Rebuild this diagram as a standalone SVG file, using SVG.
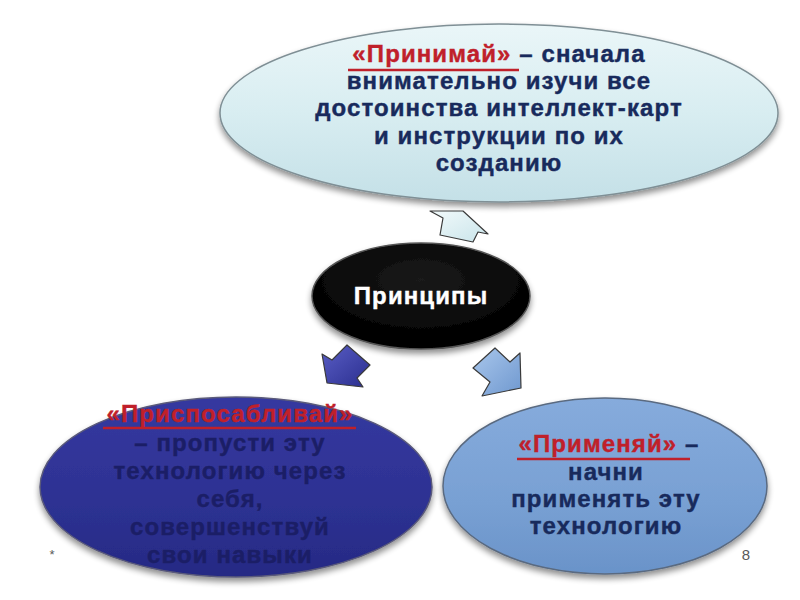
<svg xmlns="http://www.w3.org/2000/svg" width="800" height="600" viewBox="0 0 800 600">
<defs>
<linearGradient id="gTop" x1="0" y1="0" x2="0" y2="1">
<stop offset="0" stop-color="#eaf6f8"/><stop offset="0.5" stop-color="#d8edf1"/><stop offset="1" stop-color="#c4e0e7"/>
</linearGradient>
<radialGradient id="gBlack" cx="0.5" cy="0.35" r="0.6">
<stop offset="0" stop-color="#1a1a1a"/><stop offset="1" stop-color="#000000"/>
</radialGradient>
<linearGradient id="gLeft" x1="0" y1="0" x2="0" y2="1">
<stop offset="0" stop-color="#3539a0"/><stop offset="0.6" stop-color="#2d3192"/><stop offset="1" stop-color="#262a84"/>
</linearGradient>
<linearGradient id="gRight" x1="0" y1="0" x2="0" y2="1">
<stop offset="0" stop-color="#86abdc"/><stop offset="0.6" stop-color="#78a0d3"/><stop offset="1" stop-color="#6a93c9"/>
</linearGradient>
<linearGradient id="gArrUp" x1="0" y1="0" x2="1" y2="1">
<stop offset="0" stop-color="#f2fafb"/><stop offset="1" stop-color="#c9e4ea"/>
</linearGradient>
<linearGradient id="gArrL" x1="0" y1="0" x2="1" y2="1">
<stop offset="0" stop-color="#5a5ec6"/><stop offset="1" stop-color="#2a2e8e"/>
</linearGradient>
<linearGradient id="gArrR" x1="0" y1="0" x2="1" y2="1">
<stop offset="0" stop-color="#a9c7ec"/><stop offset="1" stop-color="#6f98cf"/>
</linearGradient>
<filter id="sh" x="-10%" y="-10%" width="120%" height="130%">
<feGaussianBlur in="SourceAlpha" stdDeviation="3"/>
<feOffset dx="0" dy="4" result="b"/>
<feComponentTransfer><feFuncA type="linear" slope="0.45"/></feComponentTransfer>
<feMerge><feMergeNode/><feMergeNode in="SourceGraphic"/></feMerge>
</filter>
</defs>
<style>
.t{font-family:"Liberation Sans",Arial,sans-serif;font-weight:bold;font-size:24px;letter-spacing:1.1px;text-anchor:middle;stroke-width:0.4px;}
.navy{fill:#182a5c;stroke:#182a5c;}
.dk{fill:#1b1e66;stroke:#1b1e66;}
.red{fill:#c0202a;stroke:#c0202a;}
.ul{stroke:#c0202a;stroke-width:2.5;}
.arrow{stroke:#3a3a3a;stroke-width:1.2;stroke-linejoin:round;}
.edge{stroke-width:1.5;}
.foot{font-family:"Liberation Sans",Arial,sans-serif;fill:#595959;}
</style>
<rect width="800" height="600" fill="#ffffff"/>

<g id="connectors">
<polygon class="arrow" fill="url(#gArrUp)" points="430,211 463,211 488,234 478,232 473,242 440,235 443,218"/>
<polygon class="arrow" fill="url(#gArrL)" points="322,354 332,360 347,345 370,365 357,378 363,387 327,383"/>
<polygon class="arrow" fill="url(#gArrR)" points="473,368 495,348 510,362 520,353 521,388 482,396 490,382"/>
</g>

<g id="node-top">
<ellipse cx="499" cy="113" rx="279" ry="89" fill="url(#gTop)" class="edge" stroke="#7f8f95" filter="url(#sh)"/>
<text class="t navy" x="499" y="62"><tspan class="red">«Принимай» </tspan>– сначала</text>
<line class="ul" x1="348" y1="70" x2="519" y2="70"/>
<text class="t navy" x="499" y="89">внимательно изучи все</text>
<text class="t navy" x="499" y="116">достоинства интеллект-карт</text>
<text class="t navy" x="499" y="144">и инструкции по их</text>
<text class="t navy" x="499" y="171">созданию</text>
</g>

<g id="node-center">
<ellipse cx="421" cy="296" rx="109" ry="53" fill="url(#gBlack)" stroke="#555" stroke-width="1.5" filter="url(#sh)"/>
<text class="t" x="421" y="304" fill="#ffffff" stroke="#ffffff" stroke-width="0.3" font-size="23">Принципы</text>
</g>

<g id="node-left">
<ellipse cx="236" cy="487" rx="196" ry="90" fill="url(#gLeft)" class="edge" stroke="#5a5a7a" filter="url(#sh)"/>
<text class="t red" x="230" y="422">«Приспосабливай»</text>
<line class="ul" x1="103" y1="428" x2="356" y2="428"/>
<text class="t dk" x="230" y="451">– пропусти эту</text>
<text class="t dk" x="230" y="479">технологию через</text>
<text class="t dk" x="230" y="507">себя,</text>
<text class="t dk" x="230" y="535">совершенствуй</text>
<text class="t dk" x="230" y="563">свои навыки</text>
</g>

<g id="node-right">
<ellipse cx="605" cy="486" rx="162" ry="88" fill="url(#gRight)" class="edge" stroke="#5a6a80" filter="url(#sh)"/>
<text class="t navy" x="609" y="452"><tspan class="red">«Применяй» </tspan>–</text>
<line class="ul" x1="517" y1="459" x2="690" y2="459"/>
<text class="t navy" x="606" y="480">начни</text>
<text class="t navy" x="606" y="507">применять эту</text>
<text class="t navy" x="606" y="534">технологию</text>
</g>

<text class="foot" x="52" y="559" font-size="13" text-anchor="middle">*</text>
<text class="foot" x="746" y="560" font-size="15" text-anchor="middle">8</text>
</svg>
